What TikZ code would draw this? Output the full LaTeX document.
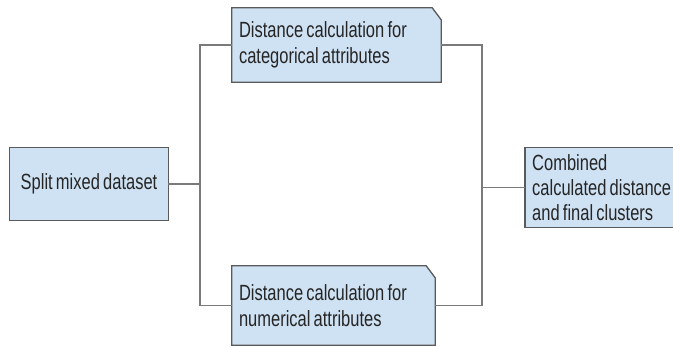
\documentclass[tikz,border=0pt]{standalone}
\usepackage{fontspec}
\setmainfont[FakeStretch=0.75,WordSpace=0.7]{Liberation Sans}
\usetikzlibrary{backgrounds,calc}
\definecolor{boxfill}{HTML}{CFE2F3}
\definecolor{boxline}{HTML}{5A5A5A}
\definecolor{wire}{HTML}{7A7A7A}
\definecolor{txt}{HTML}{252525}
\tikzset{
  stepbox/.style={draw=none, fill=none, inner sep=7pt, align=flush left, text=txt,
    font=\fontsize{22}{26.5}\selectfont, anchor=center},
  boxshape/.style={draw=boxline, fill=boxfill, line width=1.3pt},
  wireline/.style={draw=wire, line width=1.4pt}
}
\begin{document}
\begin{tikzpicture}[x=1pt,y=-1pt]
\useasboundingbox (0,0) rectangle (673,347);
\node[stepbox, align=center, minimum width=158pt, minimum height=72pt] (split) at (89,184) {Split mixed dataset};
\node[stepbox, text width=195pt, minimum height=74pt] (top) at (336.5,45) {Distance calculation for\\categorical attributes};
\node[stepbox, text width=189pt, minimum height=79pt] (bot) at (333.5,305.5) {Distance calculation for\\numerical attributes};
\node[stepbox, text width=150pt, minimum height=79pt, anchor=west, font=\fontsize{22}{25}\selectfont] (comb) at (525,187.5) {Combined\\calculated distance\\and final clusters};
\begin{pgfonlayer}{background}
  \draw[boxshape] (split.north west) rectangle (split.south east);
  \draw[boxshape] (top.north west) -- ($(top.north east)+(-9,0)$) -- ($(top.north east)+(0,12)$) -- (top.south east) -- (top.south west) -- cycle;
  \draw[boxshape] (bot.north west) -- ($(bot.north east)+(-9,0)$) -- ($(bot.north east)+(0,12)$) -- (bot.south east) -- (bot.south west) -- cycle;
  \draw[boxshape] (comb.north west) rectangle (comb.south east);
\end{pgfonlayer}
\coordinate (jl) at (200,184);
\coordinate (jr) at (482,187.5);
\draw[wireline] (top.west) -- (top.west -| jl) -- (bot.west -| jl) -- (bot.west);
\draw[wireline] (split.east) -- (jl);
\draw[wireline] (top.east) -- (top.east -| jr) -- (bot.east -| jr) -- (bot.east);
\draw[wireline] (jr) -- (comb.west);
\end{tikzpicture}
\end{document}
